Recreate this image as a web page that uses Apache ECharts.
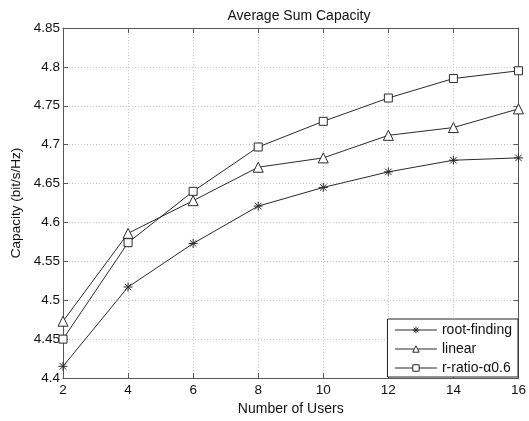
<!DOCTYPE html>
<html>
<head>
<meta charset="utf-8">
<script src="https://cdn.jsdelivr.net/npm/echarts@6/dist/echarts.min.js"></script>
<style>html,body{margin:0;padding:0;background:#fff}#c{width:529px;height:421px}</style>
</head>
<body>
<div id="c"></div>
<script>
const users = [2, 4, 6, 8, 10, 12, 14, 16];
const rootFinding = [4.415, 4.517, 4.573, 4.621, 4.645, 4.665, 4.680, 4.683];
const linear = [4.473, 4.586, 4.628, 4.671, 4.683, 4.712, 4.722, 4.746];
const rRatio = [4.450, 4.574, 4.640, 4.697, 4.730, 4.760, 4.785, 4.795];
const seriesNames = ['root-finding', 'linear', 'r-ratio-\u03b10.6'];
const yTicks = [4.4, 4.45, 4.5, 4.55, 4.6, 4.65, 4.7, 4.75, 4.8, 4.85];

const FONT = '"Liberation Sans", Arial, Helvetica, sans-serif';
const asterisk = 'path://M0,-1L0,1M-1,0L1,0M-0.72,-0.72L0.72,0.72M-0.72,0.72L0.72,-0.72';
const lineColor = '#2a2a2a';

function pairs(vals) { return users.map((u, i) => [u, vals[i]]); }

const chart = echarts.init(document.getElementById('c'), null, {renderer: 'canvas'});
const gridLine = {show: true, lineStyle: {color: '#c8c8c8', type: [1, 2], width: 1}};
const axisLineStyle = {show: true, lineStyle: {color: '#555', width: 1}};
const yFmt = v => String(+v.toFixed(2));

function mkSeries(name, vals, symbol, size) {
  return {
    name: name, type: 'line', data: pairs(vals),
    symbol: symbol, symbolSize: size,
    showAllSymbol: true,
    lineStyle: {color: lineColor, width: 1},
    itemStyle: {color: symbol === asterisk ? 'transparent' : '#fff', borderColor: lineColor, borderWidth: 1},
    emphasis: {disabled: true},
    animation: false
  };
}

chart.setOption({
  animation: false,
  backgroundColor: '#fff',
  title: {
    text: 'Average Sum Capacity', left: 294, top: 4, textAlign: 'center',
    textStyle: {fontFamily: FONT, fontSize: 14, fontWeight: 'normal', color: '#111'}
  },
  grid: {left: 63, right: 10, top: 28, bottom: 39},
  legend: {
    orient: 'vertical', right: 11, bottom: 44,
    data: seriesNames,
    itemWidth: 42, itemHeight: 8, itemGap: 5,
    padding: [4, 6, 2, 7],
    borderColor: '#222', borderWidth: 1, backgroundColor: '#fff',
    lineStyle: {width: 1, color: lineColor},
    itemStyle: {borderWidth: 1, borderColor: lineColor},
    textStyle: {fontFamily: FONT, fontSize: 14, color: '#111', lineHeight: 14},
    inactiveColor: '#111'
  },
  xAxis: [
    {
      type: 'value', min: 2, max: 16, interval: 2, position: 'bottom',
      name: 'Number of Users', nameLocation: 'middle', nameGap: 24,
      nameTextStyle: {fontFamily: FONT, fontSize: 14, color: '#111'},
      axisLine: axisLineStyle,
      axisTick: {show: true, inside: true, length: 5, lineStyle: {color: '#555'}},
      axisLabel: {fontFamily: FONT, fontSize: 13.5, color: '#111', margin: 5},
      splitLine: gridLine
    },
    {
      type: 'value', min: 2, max: 16, interval: 2, position: 'top',
      axisLine: axisLineStyle,
      axisTick: {show: true, inside: true, length: 5, lineStyle: {color: '#555'}},
      axisLabel: {show: false}, splitLine: {show: false}
    }
  ],
  yAxis: [
    {
      type: 'value', min: 4.4, max: 4.85, interval: 0.05, position: 'left',
      name: 'Capacity (bit/s/Hz)', nameLocation: 'middle', nameGap: 33, nameRotate: 90,
      nameTextStyle: {fontFamily: FONT, fontSize: 13.5, color: '#111'},
      axisLine: axisLineStyle,
      axisTick: {show: true, inside: true, length: 5, lineStyle: {color: '#555'}},
      axisLabel: {fontFamily: FONT, fontSize: 13.5, color: '#111', margin: 3, formatter: yFmt},
      splitLine: gridLine
    },
    {
      type: 'value', min: 4.4, max: 4.85, interval: 0.05, position: 'right',
      axisLine: axisLineStyle,
      axisTick: {show: true, inside: true, length: 5, lineStyle: {color: '#555'}},
      axisLabel: {show: false}, splitLine: {show: false}
    }
  ],
  series: [
    mkSeries(seriesNames[0], rootFinding, asterisk, 9),
    mkSeries(seriesNames[1], linear, 'triangle', 10),
    mkSeries(seriesNames[2], rRatio, 'rect', 8)
  ]
});
</script>
</body>
</html>
